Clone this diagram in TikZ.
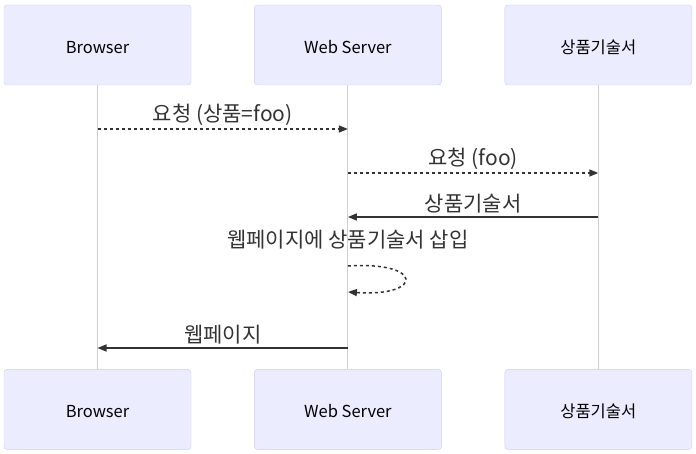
\documentclass[tikz,border=0pt]{standalone}
\usepackage{fontspec}
\setmainfont{Noto Sans CJK KR}
\usetikzlibrary{arrows.meta,positioning}
\definecolor{actorfill}{HTML}{ECECFF}
\definecolor{actorline}{HTML}{CCCCFF}
\definecolor{lifegray}{HTML}{D0D0D0}
\definecolor{msgdark}{HTML}{333333}

\begin{document}
\begin{tikzpicture}[x=1pt,y=-1pt,node distance=63pt,>={Triangle[length=9pt,width=7pt,fill=msgdark]},auto]
        \tikzstyle{actor}=[rectangle,rounded corners=3pt,draw=actorline,fill=actorfill,
            minimum width=187pt,minimum height=80pt,font=\fontsize{16.5}{18}\selectfont,text=black,
            text height=1.75em,text depth=0.1em]
        \tikzstyle{life}=[draw=lifegray,line width=1pt]
        \tikzstyle{call}=[->,draw=msgdark,line width=1.5pt,dash pattern=on 3pt off 3pt]
        \tikzstyle{reply}=[->,draw=msgdark,line width=1.5pt]
        \tikzstyle{msg}=[font=\fontsize{21}{23}\selectfont,text=msgdark,inner sep=0pt,above=3pt]
        \useasboundingbox (0,0) rectangle (696,454);
        % participants
        \node[actor](browserTop) at (97.5,45) {Browser};
        \node[actor](serverTop)[right=of browserTop] {Web Server};
        \node[actor](specTop)[right=of serverTop] {상품기술서};
        \node[actor](browserBot)[below=284pt of browserTop] {Browser};
        \node[actor](serverBot)[below=284pt of serverTop] {Web Server};
        \node[actor](specBot)[below=284pt of specTop] {상품기술서};
        % lifelines
        \draw[life] (browserTop) -- (browserBot);
        \draw[life] (serverTop) -- (serverBot);
        \draw[life] (specTop) -- (specBot);
        % message rows
        \coordinate (row1) at (0,129);
        \coordinate (row2) at (0,173);
        \coordinate (row3) at (0,217);
        \coordinate (row4a) at (0,266);
        \coordinate (row4b) at (0,292);
        \coordinate (row4t) at (0,243);
        \coordinate (row5) at (0,348);
        \draw[call] (browserTop |- row1) -- node[msg] {요청 (상품=foo)} (serverTop |- row1);
        \draw[call] (serverTop |- row2) -- node[msg] {요청 (foo)} (specTop |- row2);
        \draw[reply] (specTop |- row3) -- node[msg] {상품기술서} (serverTop |- row3);
        \node[msg,anchor=center](insertLbl) at (serverTop |- row4t) {웹페이지에 상품기술서 삽입};
        \draw[call] (serverTop |- row4a) .. controls +(76,-5) and +(76,5) .. (serverTop |- row4b);
        \draw[reply] (serverTop |- row5) -- node[msg] {웹페이지} (browserTop |- row5);
    \end{tikzpicture}
\end{document}
